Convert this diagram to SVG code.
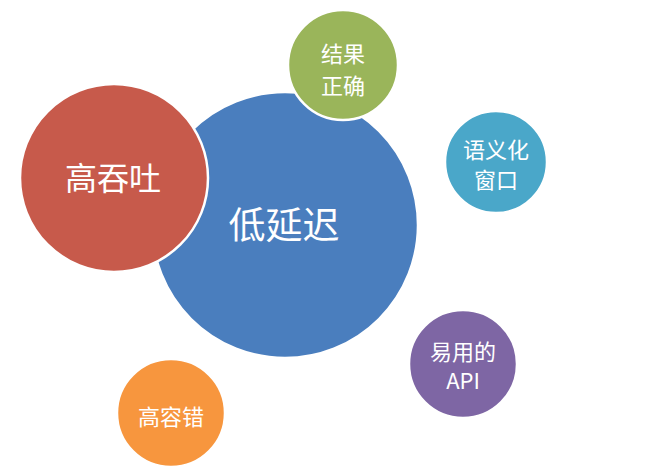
<svg xmlns="http://www.w3.org/2000/svg" width="653" height="472" viewBox="0 0 653 472">
<style>
.c{stroke:#fff;stroke-width:2.5}
.t{fill:#fff;font-family:"Noto Sans CJK SC","Noto Sans",sans-serif;text-anchor:middle;dominant-baseline:central}
.s{font-size:22px}
</style>
<rect width="653" height="472" fill="#fff"/>
<g id="connectors"></g>
<g id="low-latency">
<circle class="c" cx="285" cy="225" r="133" fill="#4A7EBE"/>
<text class="t" x="284" y="223" font-size="37">低延迟</text>
</g>
<g id="high-throughput">
<circle class="c" cx="114" cy="178" r="94" fill="#C75A4B"/>
<text class="t" x="113" y="176" font-size="32">高吞吐</text>
</g>
<g id="correct-results">
<circle class="c" cx="343" cy="65" r="55" fill="#9AB55A"/>
<text class="t s" x="343" y="52">结果</text>
<text class="t s" x="343" y="84">正确</text>
</g>
<g id="semantic-window">
<circle class="c" cx="496" cy="162" r="51" fill="#4AA7C9"/>
<text class="t s" x="496" y="148">语义化</text>
<text class="t s" x="496" y="178">窗口</text>
</g>
<g id="easy-api">
<circle class="c" cx="463" cy="364" r="54" fill="#7E66A4"/>
<text class="t s" x="463" y="350">易用的</text>
<text class="t s" x="463" y="379">API</text>
</g>
<g id="fault-tolerance">
<circle class="c" cx="171" cy="413" r="54" fill="#F7963E"/>
<text class="t s" x="171" y="415">高容错</text>
</g>
</svg>
